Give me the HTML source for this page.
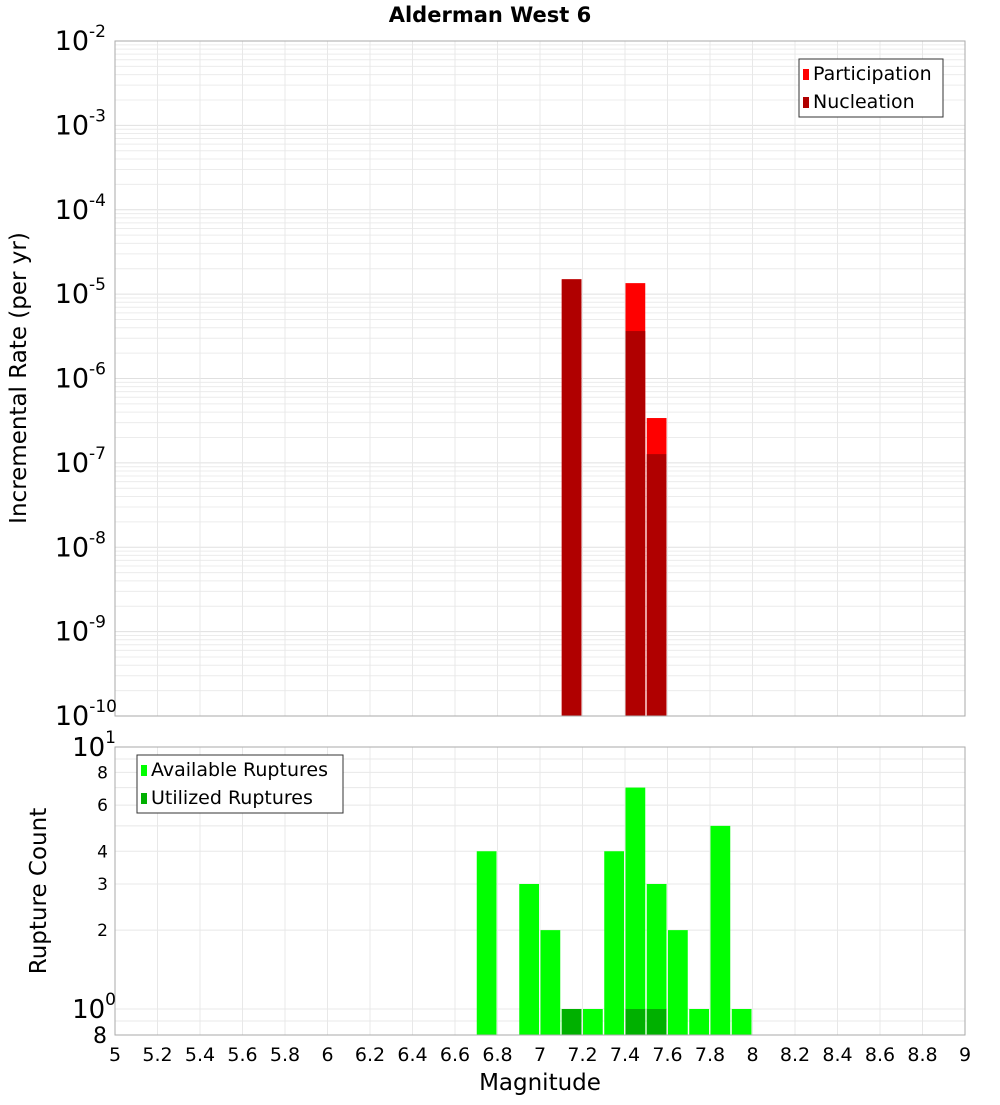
<!DOCTYPE html>
<html><head><meta charset="utf-8"><style>
body{margin:0;background:#fff;width:1000px;height:1100px;overflow:hidden}
svg{font-family:"DejaVu Sans","Liberation Sans",sans-serif}
</style></head><body>
<svg id="chart" width="1000" height="1100" xmlns="http://www.w3.org/2000/svg">
<text x="490" y="22" text-anchor="middle" font-size="21" font-weight="bold">Alderman West 6</text>
<text transform="translate(26,378) rotate(-90)" text-anchor="middle" font-size="23">Incremental Rate (per yr)</text>
<text transform="translate(46,891) rotate(-90)" text-anchor="middle" font-size="23">Rupture Count</text>
<text x="540" y="1090" text-anchor="middle" font-size="23">Magnitude</text>
<g id="g"></g>
</svg>
<script>
const rateBins=[7.1,7.4,7.5];
const participation=[1.5e-5,1.35e-5,3.4e-7];
const nucleation=[1.5e-5,3.65e-6,1.27e-7];
const countBins=[6.7,6.9,7.0,7.1,7.2,7.3,7.4,7.5,7.6,7.7,7.8,7.9];
const available=[4,3,2,1,1,4,7,3,2,1,5,1];
const utilBins=[7.1,7.4,7.5];
const utilized=[1,1,1];
const xTicks=[5,5.2,5.4,5.6,5.8,6,6.2,6.4,6.6,6.8,7,7.2,7.4,7.6,7.8,8,8.2,8.4,8.6,8.8,9];
const topExps=[-2,-3,-4,-5,-6,-7,-8,-9,-10];
const botTicks=[8,6,4,3,2];

const NS="http://www.w3.org/2000/svg",g=document.getElementById('g');
function el(t,a,txt){const e=document.createElementNS(NS,t);for(const k in a)e.setAttribute(k,a[k]);if(txt!==undefined)e.textContent=txt;g.appendChild(e);return e;}
const X0=115,X1=965;
const x=m=>X0+(m-5)/4*(X1-X0);
const T0=41,T1=716;
const yT=v=>T0+(-2-Math.log10(v))/8*(T1-T0);
const B0=747,B1=1035;
const yB=v=>1009-Math.log10(v)*262;

for(let e=-10;e<-2;e++)for(let k=1;k<10;k++){const yy=yT(k*Math.pow(10,e));
 const l=el('line',{x1:X0,x2:X1,y1:yy,y2:yy,stroke:k==1?'#e0e0e0':'#ececec','stroke-width':1});
 }
for(let v=0.9;v<=10.01;v+=(v<1?0.1:1)){const yy=yB(v);if(yy<B0-0.5)continue;
 const l=el('line',{x1:X0,x2:X1,y1:yy,y2:yy,stroke:'#e8e8e8'});
 }
xTicks.forEach(t=>{const xx=x(t);
 let l=el('line',{x1:xx,x2:xx,y1:T0,y2:T1,stroke:'#e8e8e8'});
 l=el('line',{x1:xx,x2:xx,y1:B0,y2:B1,stroke:'#e8e8e8'});
 const tx=el('text',{x:xx,y:1061,'text-anchor':'middle','font-size':19},String(t));
 });

rateBins.forEach((m,i)=>{
 let r=el('rect',{x:x(m)+0.5,y:yT(participation[i]),width:x(m+0.1)-x(m)-1.5,height:T1-yT(participation[i]),fill:'#ff0000'});
 
 r=el('rect',{x:x(m)+0.5,y:yT(nucleation[i]),width:x(m+0.1)-x(m)-1.5,height:T1-yT(nucleation[i]),fill:'#b00000'});
 });
countBins.forEach((m,i)=>{const yy=yB(available[i]);
 const r=el('rect',{x:x(m)+0.5,y:yy,width:x(m+0.1)-x(m)-1.5,height:B1-yy,fill:'#00ff00'});
 });
utilBins.forEach((m,i)=>{const yy=yB(utilized[i]);
 const r=el('rect',{x:x(m)+0.5,y:yy,width:x(m+0.1)-x(m)-1.5,height:B1-yy,fill:'#00b000'});
 });

let f=el('rect',{x:X0,y:T0,width:X1-X0,height:T1-T0,fill:'none',stroke:'#aaa'});
f=el('rect',{x:X0,y:B0,width:X1-X0,height:B1-B0,fill:'none',stroke:'#aaa'});

topExps.forEach(e=>{const yy=yT(Math.pow(10,e));
 const t=el('text',{x:e==-10?117:106,y:yy+9,'text-anchor':'end','font-size':27});
 
 const a=document.createElementNS(NS,'tspan');a.textContent='10';t.appendChild(a);
 const b=document.createElementNS(NS,'tspan');b.setAttribute('dy','-13');b.setAttribute('font-size','17');b.textContent=String(e);t.appendChild(b);});
[['1',yB(10)],['0',yB(1)]].forEach(([ex,yy])=>{
 const t=el('text',{x:116,y:yy+9,'text-anchor':'end','font-size':26});
 
 const a=document.createElementNS(NS,'tspan');a.textContent='10';t.appendChild(a);
 const b=document.createElementNS(NS,'tspan');b.setAttribute('dy','-13');b.setAttribute('font-size','17');b.textContent=ex;t.appendChild(b);});
botTicks.forEach(v=>{const t=el('text',{x:108,y:yB(v)+6,'text-anchor':'end','font-size':17},String(v));
 });
let t8=el('text',{x:107,y:1043,'text-anchor':'end','font-size':22},'8');

function legend(x0,y0,w,items,name){
 const r=el('rect',{x:x0,y:y0,width:w,height:58,fill:'#fff',stroke:'#333'});
 items.forEach(([c,l],i)=>{const s=el('rect',{x:x0+4,y:y0+10+i*28,width:6,height:11,fill:c});
  const t=el('text',{x:x0+14,y:y0+21+i*28,'font-size':19},l);});}
legend(799,59,144,[['#ff0000','Participation'],['#b00000','Nucleation']],'top-legend');
legend(137,755,206,[['#00ff00','Available Ruptures'],['#00b000','Utilized Ruptures']],'bottom-legend');
</script>
</body></html>
